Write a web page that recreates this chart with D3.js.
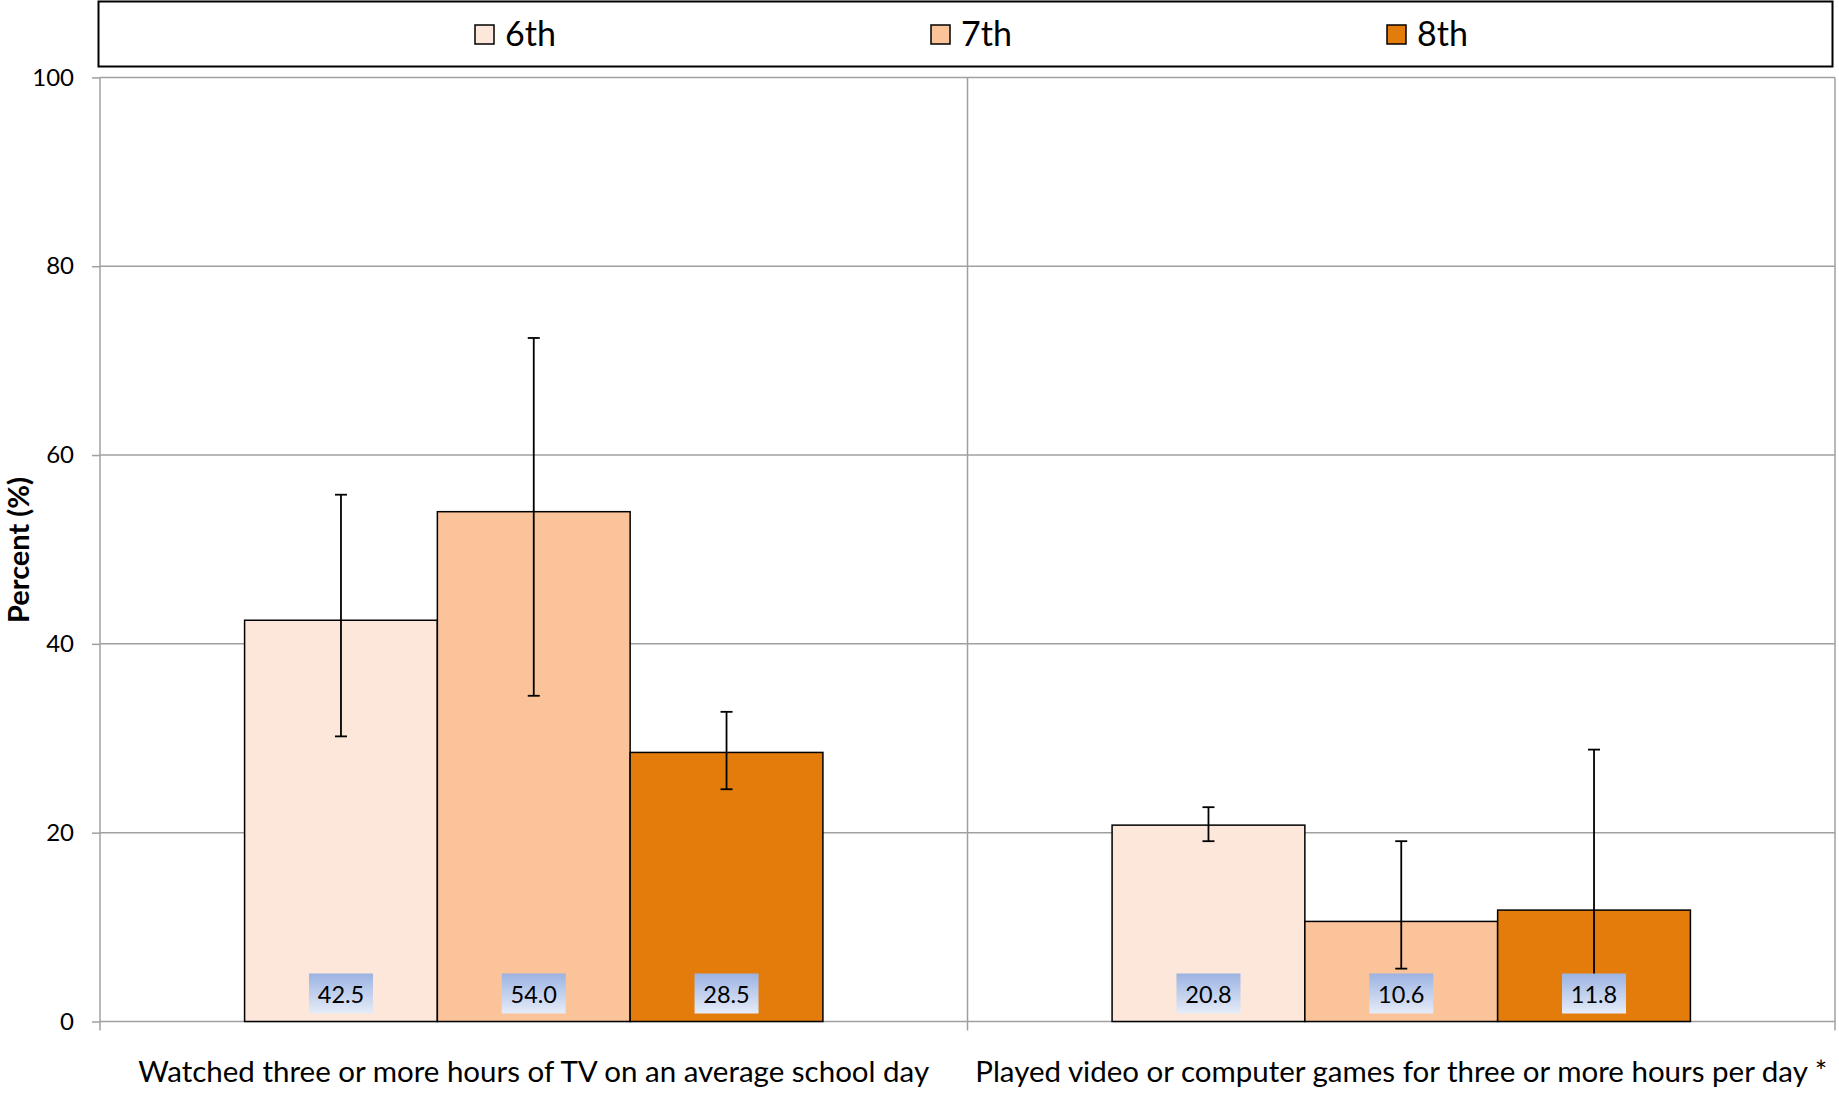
<!DOCTYPE html>
<html><head><meta charset="utf-8">
<script src="https://cdn.jsdelivr.net/npm/d3@7"></script>
<style>body{margin:0;background:#fff}svg{display:block}</style>
</head><body>
<svg id="c" width="1839" height="1094"></svg>
<script>
const categories = ["Watched three or more hours of TV on an average school day", "Played video or computer games for three or more hours per day *"];
const grades = ["6th", "7th", "8th"];
const colors = ["#FDE6DA", "#FBC39A", "#E37C0B"];
const values6 = [42.5, 20.8];
const values7 = [54.0, 10.6];
const values8 = [28.5, 11.8];
const lower6 = [30.2, 19.1];
const upper6 = [55.8, 22.7];
const lower7 = [34.5, 5.6];
const upper7 = [72.4, 19.1];
const lower8 = [24.6, 3.0];
const upper8 = [32.8, 28.8];
const yTicks = [0, 20, 40, 60, 80, 100];

const values = [values6, values7, values8];
const lowers = [lower6, lower7, lower8];
const uppers = [upper6, upper7, upper8];

const font = "Lato, 'Open Sans', sans-serif";
const svg = d3.select("#c");
const L = 100, R = 1835, T = 77.4, B = 1021.5;

const x0 = d3.scaleBand().domain(categories).range([L, R]).padding(0);
const x1 = d3.scaleBand().domain(grades).range([x0.bandwidth()/6, x0.bandwidth()*5/6]).padding(0);
const y = d3.scaleLinear().domain([0, 100]).range([B, T]);

// gridlines
svg.append("g").selectAll("line").data(yTicks).join("line")
  .attr("x1", L).attr("x2", R).attr("y1", d => y(d)).attr("y2", d => y(d))
  .attr("stroke", "#a0a0a0").attr("stroke-width", 1.5);
// vertical separators
const seps = [L, x0(categories[1]), R];
svg.append("g").selectAll("line").data(seps).join("line")
  .attr("x1", d => d).attr("x2", d => d).attr("y1", T).attr("y2", B + 9)
  .attr("stroke", "#a0a0a0").attr("stroke-width", 1.5);

// y axis
const yAxis = svg.append("g").attr("transform", `translate(${L},0)`)
  .call(d3.axisLeft(y).tickValues(yTicks).tickSize(8).tickSizeOuter(0));
yAxis.select(".domain").remove();
yAxis.selectAll(".tick line").attr("stroke", "#a0a0a0").attr("stroke-width", 1.5);
yAxis.selectAll(".tick text").attr("font-family", font).attr("font-size", 24).attr("fill", "#000").attr("x", -26);

// y title
svg.append("text").attr("transform", `translate(29,550) rotate(-90)`)
  .attr("text-anchor", "middle").attr("font-family", font).attr("font-size", 29).attr("font-weight", "bold")
  .text("Percent (%)");

// bars
const data = [];
categories.forEach((c, ci) => grades.forEach((g, gi) => data.push({c, g, gi, v: values[gi][ci], lo: lowers[gi][ci], hi: uppers[gi][ci]})));

const gBars = svg.append("g");
gBars.selectAll("rect").data(data).join("rect")
  .attr("x", d => x0(d.c) + x1(d.g)).attr("width", x1.bandwidth())
  .attr("y", d => y(d.v)).attr("height", d => y(0) - y(d.v))
  .attr("fill", d => colors[d.gi]).attr("stroke", "#000").attr("stroke-width", 1.5);

// error bars
const cx = d => x0(d.c) + x1(d.g) + x1.bandwidth()/2;
const eb = svg.append("g").attr("stroke", "#000").attr("stroke-width", 1.8);
eb.selectAll("line.v").data(data).join("line").attr("class", "v")
  .attr("x1", cx).attr("x2", cx).attr("y1", d => y(d.lo)).attr("y2", d => y(d.hi));
eb.selectAll("line.t").data(data).join("line").attr("class", "t")
  .attr("x1", d => cx(d) - 6).attr("x2", d => cx(d) + 6).attr("y1", d => y(d.hi)).attr("y2", d => y(d.hi));
eb.selectAll("line.b").data(data).join("line").attr("class", "b")
  .attr("x1", d => cx(d) - 6).attr("x2", d => cx(d) + 6).attr("y1", d => y(d.lo)).attr("y2", d => y(d.lo));

// label gradient
const defs = svg.append("defs");
const grad = defs.append("linearGradient").attr("id", "lg").attr("x1", 0).attr("y1", 0).attr("x2", 0).attr("y2", 1);
grad.append("stop").attr("offset", "0%").attr("stop-color", "#9BB3E2");
grad.append("stop").attr("offset", "100%").attr("stop-color", "#E6ECF8");

const labels = svg.append("g");
labels.selectAll("rect").data(data).join("rect")
  .attr("x", d => cx(d) - 32).attr("width", 64).attr("y", y(0) - 48).attr("height", 40)
  .attr("fill", "url(#lg)");
labels.selectAll("text").data(data).join("text")
  .attr("x", cx).attr("y", y(0) - 19).attr("text-anchor", "middle")
  .attr("font-family", font).attr("font-size", 23.5).attr("fill", "#000")
  .text(d => d.v.toFixed(1));

// category labels
svg.append("g").selectAll("text").data(categories).join("text")
  .attr("x", d => x0(d) + x0.bandwidth()/2).attr("y", 1082).attr("text-anchor", "middle")
  .attr("font-family", font).attr("font-size", 29.5).attr("fill", "#000")
  .text(d => d);

// legend
svg.append("rect").attr("x", 98.5).attr("y", 1.5).attr("width", 1734).attr("height", 65)
  .attr("fill", "#fff").attr("stroke", "#000").attr("stroke-width", 2);
const legX = [475, 931, 1387];
const leg = svg.append("g").selectAll("g").data(grades).join("g")
  .attr("transform", (d, i) => `translate(${legX[i]},0)`);
leg.append("rect").attr("x", 0).attr("y", 25).attr("width", 19).attr("height", 19)
  .attr("fill", (d, i) => colors[i]).attr("stroke", "#000").attr("stroke-width", 1.5);
leg.append("text").attr("x", 30).attr("y", 46).attr("font-family", font).attr("font-size", 34)
  .attr("fill", "#000").text(d => d);
</script>
</body></html>
